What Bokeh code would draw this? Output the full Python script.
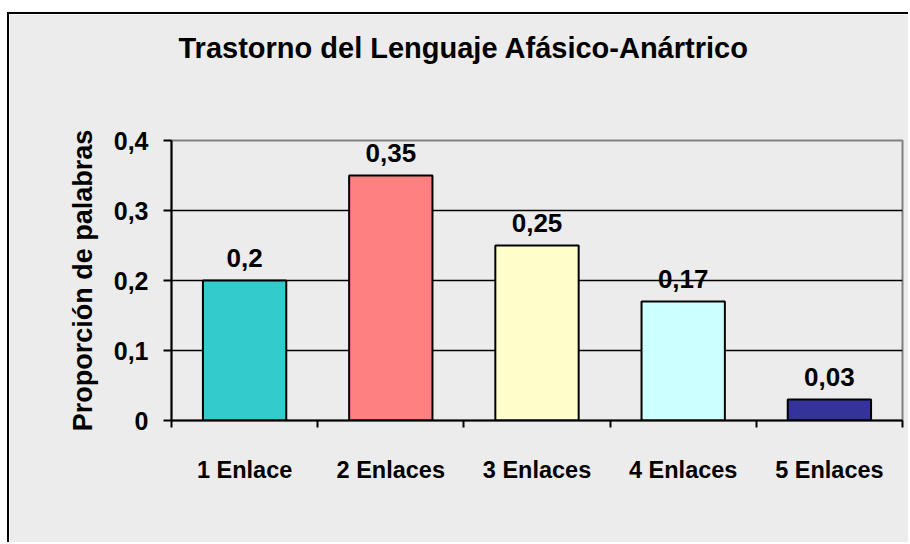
from bokeh.plotting import figure
from bokeh.models import Range1d, FixedTicker, ColumnDataSource, Title
from bokeh.core.properties import value
from bokeh.embed import file_html
from bokeh.resources import INLINE

# ---- data ----
categories = ["1 Enlace", "2 Enlaces", "3 Enlaces", "4 Enlaces", "5 Enlaces"]
values = [0.2, 0.35, 0.25, 0.17, 0.03]
value_labels = ["0,2", "0,35", "0,25", "0,17", "0,03"]
bar_colors = ["#33CCCC", "#FF8080", "#FFFFCC", "#CCFFFF", "#333399"]
y_ticks = [0, 0.1, 0.2, 0.3, 0.4]
y_tick_labels = ["0", "0,1", "0,2", "0,3", "0,4"]
title_text = "Trastorno del Lenguaje Afásico-Anártrico"
y_title = "Proporción de palabras"

FONT = "Liberation Sans"
BG = "#ececec"

n = len(categories)
positions = [i + 0.5 for i in range(n)]
boundaries = list(range(n + 1))

src = ColumnDataSource(dict(x=positions, top=values, color=bar_colors, label=value_labels))

p = figure(width=901, height=530, output_backend="svg", toolbar_location=None,
           x_range=Range1d(0, n), y_range=Range1d(y_ticks[0], y_ticks[-1]),
           min_border_left=162, min_border_right=8, min_border_top=126,
           min_border_bottom=124)
p.styles = {"margin-left": "7px", "margin-top": "12px",
            "border-left": "2px solid black", "border-top": "2px solid black"}

p.background_fill_color = BG
p.border_fill_color = BG
p.outline_line_color = "#808080"
p.outline_line_width = 2

# title (spacer below it keeps it high above the plot area)
p.title.visible = False
spacer = Title(text=" ", text_font_size="1px", standoff=74)
p.add_layout(spacer, "above")
main_title = Title(text=title_text, text_font=FONT, text_font_size="29px",
                   text_font_style="bold", text_color="black", align="left",
                   offset=7, standoff=0)
p.add_layout(main_title, "above")

# x axis: labels at category centres, tick marks at category boundaries
xa = p.xaxis[0]
xa.ticker = FixedTicker(ticks=positions, minor_ticks=boundaries)
xa.major_label_overrides = {pos: cat for pos, cat in zip(positions, categories)}
xa.major_tick_out = 0
xa.major_tick_in = 0
xa.minor_tick_out = 7
xa.minor_tick_in = 0
xa.minor_tick_line_color = "black"
xa.minor_tick_line_width = 2
xa.axis_line_color = "black"
xa.axis_line_width = 2
xa.major_label_standoff = 29
xa.major_label_text_font = FONT
xa.major_label_text_font_style = "bold"
xa.major_label_text_font_size = "23.5px"
xa.major_label_text_color = "black"
p.xgrid.visible = False

# y axis
ya = p.yaxis[0]
ya.ticker = FixedTicker(ticks=y_ticks, minor_ticks=[])
ya.major_label_overrides = {t: l for t, l in zip(y_ticks, y_tick_labels)}
ya.major_tick_out = 8
ya.major_tick_in = 0
ya.major_tick_line_width = 2
ya.major_tick_line_color = "black"
ya.axis_line_color = "black"
ya.axis_line_width = 2
ya.major_label_standoff = 15
ya.major_label_text_font = FONT
ya.major_label_text_font_style = "bold"
ya.major_label_text_font_size = "25px"
ya.major_label_text_color = "black"
ya.axis_label = y_title
ya.axis_label_text_font = FONT
ya.axis_label_text_font_style = "bold"
ya.axis_label_text_font_size = "27px"
ya.axis_label_text_color = "black"
ya.axis_label_standoff = 13

p.ygrid.ticker = FixedTicker(ticks=y_ticks[1:-1], minor_ticks=[])
p.ygrid.grid_line_color = "black"
p.ygrid.grid_line_width = 1.5

# bars
p.vbar(x="x", top="top", bottom=0, width=0.57, fill_color="color",
       line_color="black", line_width=2, source=src)

# value labels
p.text(x="x", y="top", text="label", text_align="center", text_baseline="alphabetic",
       y_offset=-23, text_font=value(FONT), text_font_style="bold",
       text_font_size="26px", text_color="black", source=src)

open("out.html", "w").write(file_html(p, INLINE))
